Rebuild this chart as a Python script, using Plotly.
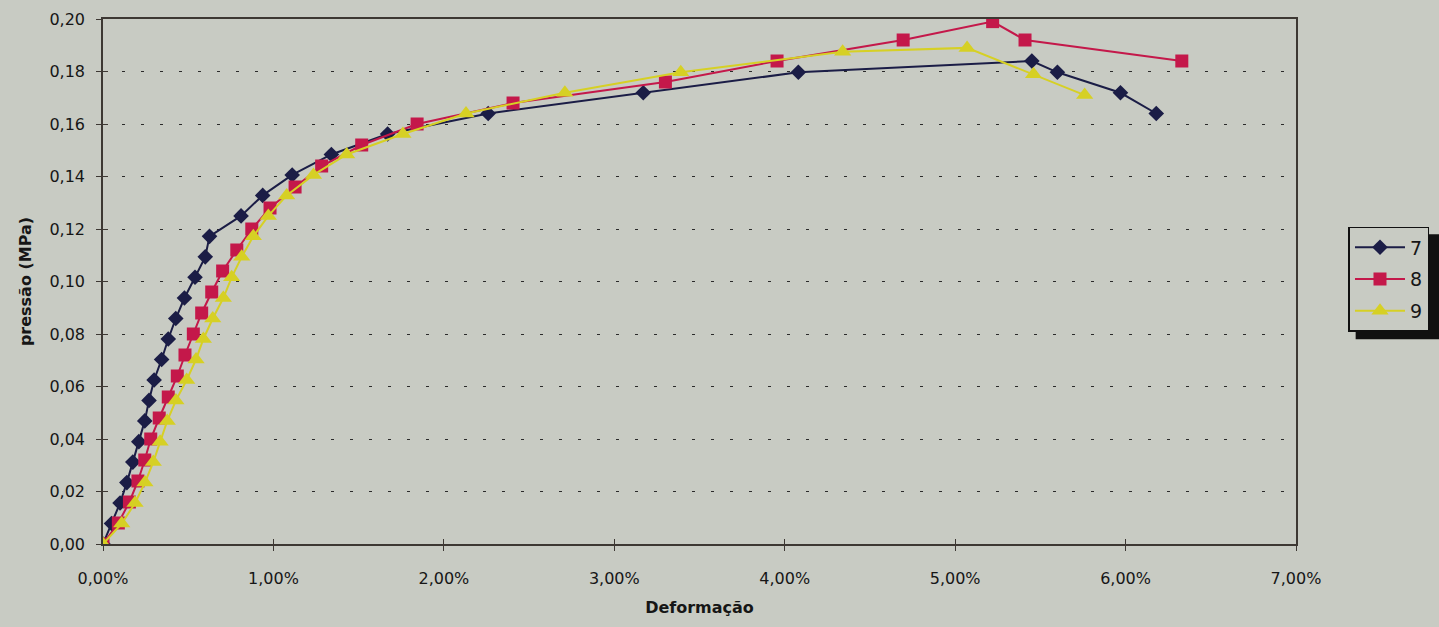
import plotly.graph_objects as go

# ---- data ----
strain7 = [0, 0.05, 0.10, 0.14, 0.175, 0.21, 0.245, 0.27, 0.30, 0.344,
           0.383, 0.427, 0.478, 0.54, 0.60, 0.625, 0.81, 0.937, 1.11, 1.34,
           1.67, 2.26, 3.17, 4.08, 5.45, 5.60, 5.97, 6.18]
press7 = [0, 0.0078, 0.0156, 0.0234, 0.0312, 0.039, 0.0469, 0.0547, 0.0625, 0.0703,
          0.0781, 0.0859, 0.0937, 0.1016, 0.1094, 0.1172, 0.125, 0.1328, 0.1406, 0.1484,
          0.1562, 0.164, 0.1719, 0.1797, 0.184, 0.1797, 0.1719, 0.164]

strain8 = [0, 0.09, 0.155, 0.205, 0.245, 0.28, 0.33, 0.383, 0.436, 0.481,
           0.530, 0.579, 0.638, 0.702, 0.785, 0.873, 0.980, 1.127, 1.283, 1.518,
           1.843, 2.406, 3.30, 3.955, 4.695, 5.22, 5.41, 6.33]
press8 = [0, 0.008, 0.016, 0.024, 0.032, 0.040, 0.048, 0.056, 0.064, 0.072,
          0.080, 0.088, 0.096, 0.104, 0.112, 0.120, 0.128, 0.136, 0.144, 0.152,
          0.160, 0.168, 0.176, 0.184, 0.192, 0.199, 0.192, 0.184]

strain9 = [0, 0.11, 0.188, 0.246, 0.295, 0.335, 0.377, 0.428, 0.491, 0.546,
           0.589, 0.644, 0.706, 0.755, 0.814, 0.882, 0.97, 1.078, 1.235, 1.43,
           1.76, 2.13, 2.71, 3.39, 4.34, 5.07, 5.46, 5.76]
press9 = [0, 0.0078, 0.0156, 0.0234, 0.0312, 0.039, 0.0469, 0.0547, 0.0625, 0.0703,
          0.0781, 0.0859, 0.0937, 0.1016, 0.1094, 0.1172, 0.125, 0.1328, 0.1406, 0.1484,
          0.1562, 0.164, 0.1719, 0.1797, 0.1875, 0.189, 0.179, 0.171]

series_names = ["7", "8", "9"]
x_ticks = [0, 1, 2, 3, 4, 5, 6, 7]
x_tick_labels = ["0,00%", "1,00%", "2,00%", "3,00%", "4,00%", "5,00%", "6,00%", "7,00%"]
y_ticks = [0, 0.02, 0.04, 0.06, 0.08, 0.10, 0.12, 0.14, 0.16, 0.18, 0.20]
y_tick_labels = ["0,00", "0,02", "0,04", "0,06", "0,08", "0,10",
                 "0,12", "0,14", "0,16", "0,18", "0,20"]

BG = "#c8cbc3"
AX = "#3d3833"
FONT = "DejaVu Sans"

fig = go.Figure()
styles = [
    (strain7, press7, "#1b1d46", "diamond", 12),
    (strain8, press8, "#c4184a", "square", 13),
    (strain9, press9, "#d6d024", "triangle-up", 15),
]
for name, (xs, ys, col, sym, sz) in zip(series_names, styles):
    fig.add_trace(go.Scatter(
        x=xs, y=ys, name=name, mode="lines+markers",
        line=dict(color=col, width=2),
        marker=dict(color=col, symbol=sym, size=sz, line=dict(width=0)),
        legendgroup=name,
    ))

# dummy trace for overlay axes (inside half of crossing ticks)
fig.add_trace(go.Scatter(x=[None], y=[None], xaxis="x2", yaxis="y2",
                         showlegend=False, hoverinfo="skip"))

fig.update_layout(
    width=1439, height=627,
    margin=dict(l=103, r=143, t=19, b=83, autoexpand=False),
    paper_bgcolor=BG, plot_bgcolor=BG,
    font=dict(family=FONT, size=16, color="#161616"),
    xaxis=dict(
        range=[0, 7], tickvals=x_ticks, ticktext=x_tick_labels,
        showgrid=False, zeroline=False,
        showline=True, linecolor=AX, linewidth=1.5, mirror=True,
        ticks="outside", ticklen=5, tickwidth=1, tickcolor=AX,
        ticklabelstandoff=14,
        title=dict(text="<b>Deformação</b>", font=dict(size=16), standoff=15),
    ),
    yaxis=dict(
        range=[0, 0.2], tickvals=y_ticks, ticktext=y_tick_labels,
        showgrid=True, gridcolor="#2b2b2b", gridwidth=1, griddash="3px,16px",
        zeroline=False,
        showline=True, linecolor=AX, linewidth=1.5, mirror=True,
        ticks="outside", ticklen=5, tickwidth=1, tickcolor=AX,
        ticklabelstandoff=8,
        title=dict(text="<b>pressão (MPa)</b>", font=dict(size=16), standoff=14),
    ),
    xaxis2=dict(range=[0, 7], tickvals=x_ticks, overlaying="x", anchor="y2",
                ticks="inside", ticklen=5, tickcolor=AX, showticklabels=False,
                showgrid=False, zeroline=False, showline=False),
    yaxis2=dict(range=[0, 0.2], tickvals=y_ticks, overlaying="y", anchor="x2",
                ticks="inside", ticklen=5, tickcolor=AX, showticklabels=False,
                showgrid=False, zeroline=False, showline=False),
    legend=dict(
        x=1.044, y=0.604, xanchor="left", yanchor="top",
        bgcolor=BG, bordercolor="#111111", borderwidth=1.5,
        font=dict(size=19, color="#161616"),
        tracegroupgap=4, itemwidth=50,
    ),
    shapes=[dict(type="rect", xref="paper", yref="paper",
                 x0=1.05, x1=1.13, y0=0.39, y1=0.59,
                 fillcolor="#111111", line=dict(width=0), layer="below")],
)

fig.write_html("out.html")
